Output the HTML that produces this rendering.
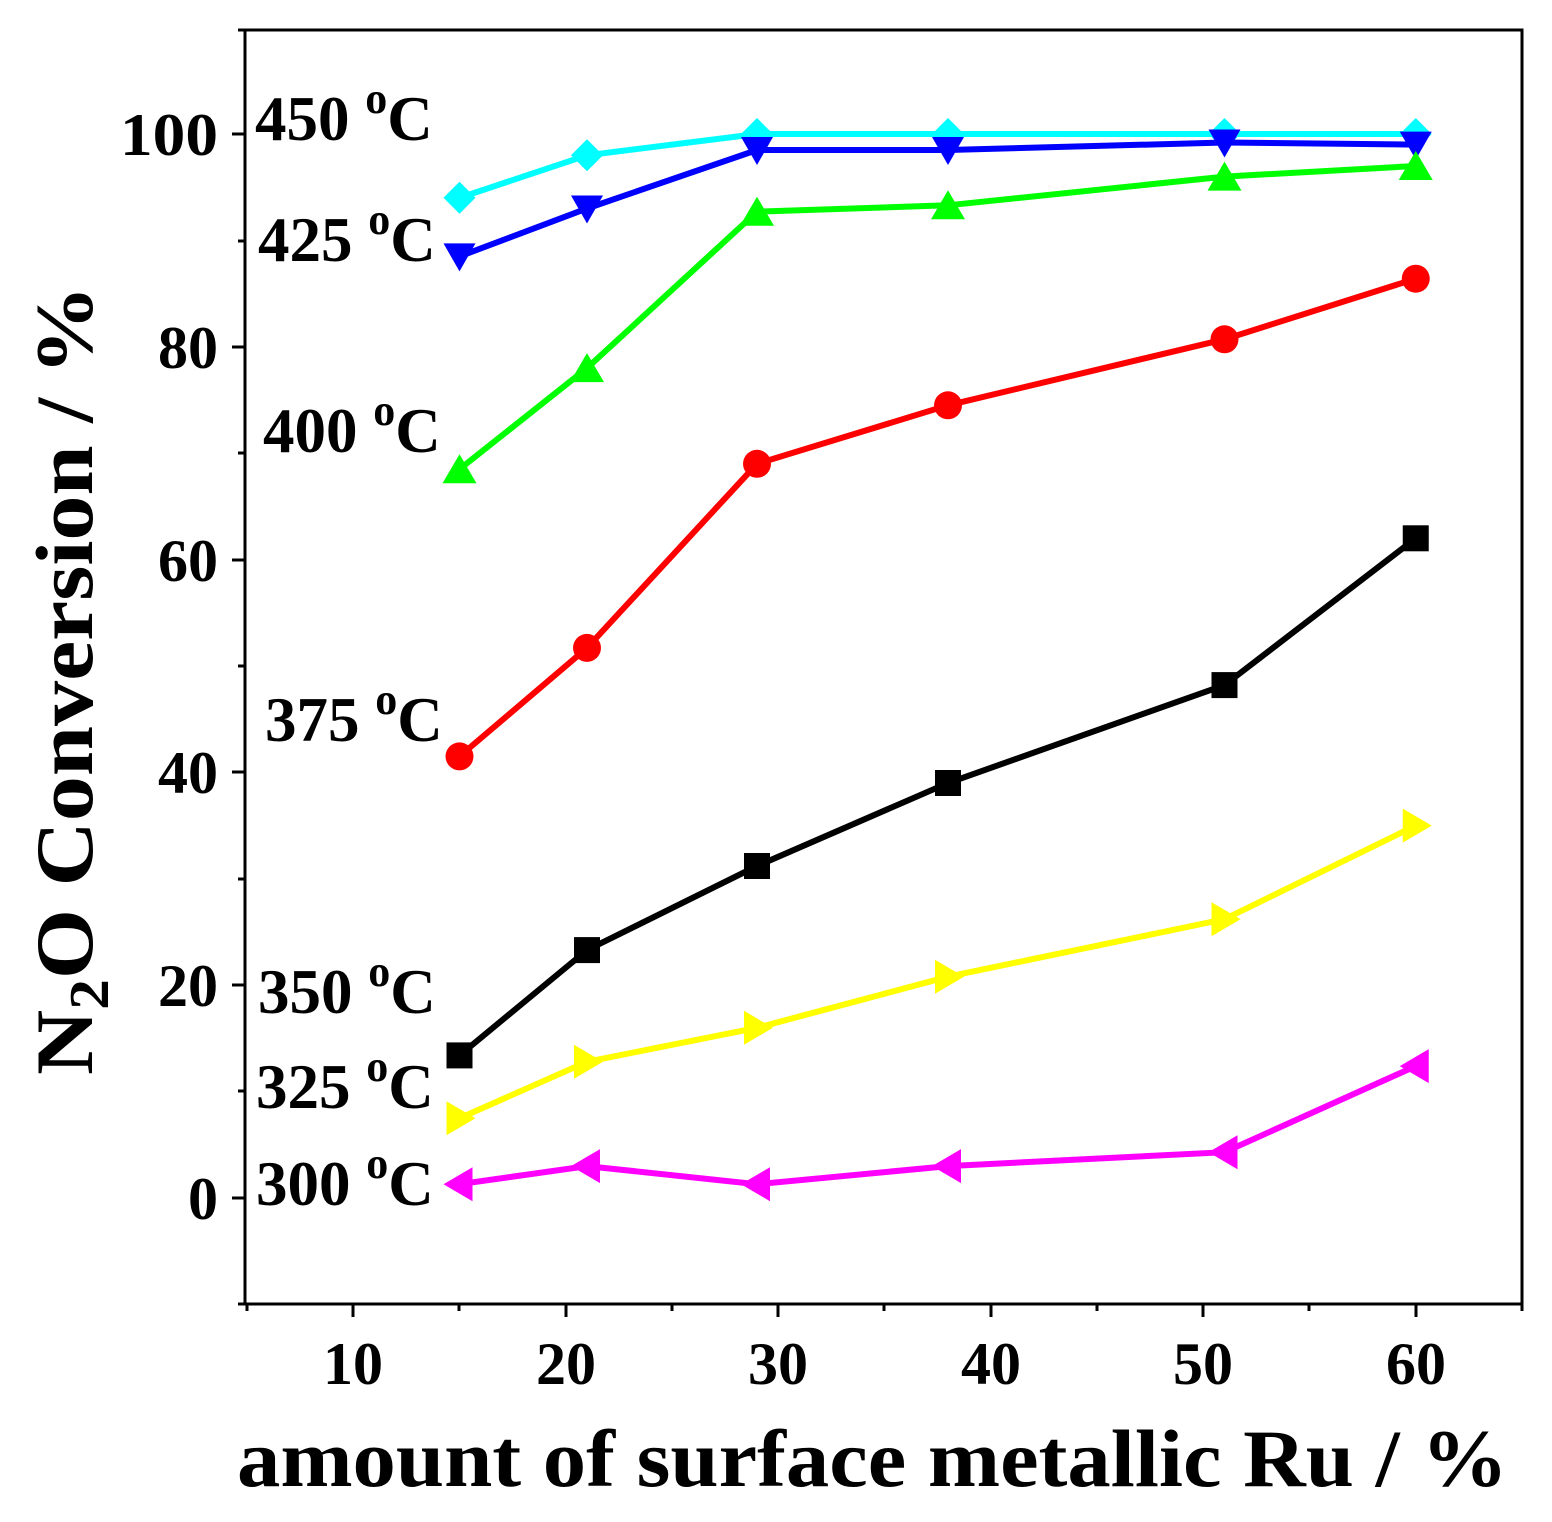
<!DOCTYPE html>
<html><head><meta charset="utf-8"><style>body{margin:0;background:#fff}svg{display:block}</style></head><body>
<svg width="1552" height="1522" viewBox="0 0 1552 1522" xmlns="http://www.w3.org/2000/svg" font-family="Liberation Serif, serif" font-weight="bold">
<rect x="245" y="30" width="1277" height="1274" fill="none" stroke="#000" stroke-width="3"/>
<g stroke="#000" stroke-width="3">
<line x1="245" y1="1198" x2="232" y2="1198"/><line x1="245" y1="985" x2="232" y2="985"/><line x1="245" y1="772" x2="232" y2="772"/><line x1="245" y1="560" x2="232" y2="560"/><line x1="245" y1="347" x2="232" y2="347"/><line x1="245" y1="134" x2="232" y2="134"/>
<line x1="245" y1="1091" x2="238" y2="1091"/><line x1="245" y1="879" x2="238" y2="879"/><line x1="245" y1="666" x2="238" y2="666"/><line x1="245" y1="453" x2="238" y2="453"/><line x1="245" y1="241" x2="238" y2="241"/><line x1="245" y1="1304" x2="238" y2="1304"/><line x1="245" y1="30" x2="238" y2="30"/>
<line x1="353" y1="1304" x2="353" y2="1317"/><line x1="566" y1="1304" x2="566" y2="1317"/><line x1="778" y1="1304" x2="778" y2="1317"/><line x1="991" y1="1304" x2="991" y2="1317"/><line x1="1203" y1="1304" x2="1203" y2="1317"/><line x1="1416" y1="1304" x2="1416" y2="1317"/>
<line x1="247" y1="1304" x2="247" y2="1311"/><line x1="459" y1="1304" x2="459" y2="1311"/><line x1="672" y1="1304" x2="672" y2="1311"/><line x1="884" y1="1304" x2="884" y2="1311"/><line x1="1097" y1="1304" x2="1097" y2="1311"/><line x1="1309" y1="1304" x2="1309" y2="1311"/><line x1="1522" y1="1304" x2="1522" y2="1311"/>
</g>
<g font-size="60" text-anchor="end">
<text x="218" y="1219">0</text><text x="218" y="1006">20</text><text x="218" y="793">40</text><text x="218" y="581">60</text><text x="218" y="368">80</text><text x="218" y="155" textLength="98" lengthAdjust="spacingAndGlyphs">100</text>
</g>
<g font-size="60" text-anchor="middle">
<text x="353" y="1384">10</text><text x="566" y="1384">20</text><text x="778" y="1384">30</text><text x="991" y="1384">40</text><text x="1203" y="1384">50</text><text x="1416" y="1384">60</text>
</g>
<text x="237" y="1486" font-size="82" textLength="1271" lengthAdjust="spacingAndGlyphs">amount of surface metallic Ru / %</text>
<text transform="translate(92,1075) rotate(-90)" font-size="82" textLength="790" lengthAdjust="spacingAndGlyphs">N<tspan font-size="56" dy="16">2</tspan><tspan dy="-16">O Conversion / %</tspan></text>
<g fill="none" stroke-width="6">
<polyline stroke="#0ff" points="459.5,197.8 587,155.3 757,134 948,134 1224.5,134 1415.75,134"/>
<polyline stroke="#00f" points="459.5,256.4 587,208.5 757,150 948,150 1224.5,142.5 1415.75,144.6"/>
<polyline stroke="#0f0" points="459.5,469.2 587,368.1 757,211.7 948,205.3 1224.5,176.6 1415.75,166"/>
<polyline stroke="#f00" points="459.5,756.4 587,647.9 757,463.8 948,405.3 1224.5,339.3 1415.75,278.7"/>
<polyline stroke="#000" points="459.5,1055.4 587,950.1 757,866 948,783 1224.5,685.1 1415.75,538.3"/>
<polyline stroke="#ff0" points="459.5,1118.2 587,1061.8 757,1027.8 948,976.7 1224.5,919.2 1415.75,825.6"/>
<polyline stroke="#f0f" points="459.5,1184.2 587,1166.1 757,1184.2 948,1166.1 1224.5,1152.2 1415.75,1066.1"/>
</g>
<defs>
<path id="dia" d="M0,-16 L16,0 L0,16 L-16,0Z" fill="#0ff"/>
<path id="dn" d="M-16,-13 L16,-13 L0,15Z" fill="#00f"/>
<path id="up" d="M-17,14 L17,14 L0,-15Z" fill="#0f0"/>
<circle id="ci" r="14" fill="#f00"/>
<rect id="sq" x="-13" y="-13" width="26" height="26" fill="#000"/>
<path id="rt" d="M-13,-17 L16,0 L-13,17Z" fill="#ff0"/>
<path id="lt" d="M13,-17 L-16,0 L13,17Z" fill="#f0f"/>
</defs>
<g>
<use href="#dia" x="459.5" y="197.8"/><use href="#dia" x="587" y="155.3"/><use href="#dia" x="757" y="134"/><use href="#dia" x="948" y="134"/><use href="#dia" x="1224.5" y="134"/><use href="#dia" x="1415.75" y="134"/>
<use href="#dn" x="459.5" y="256.4"/><use href="#dn" x="587" y="208.5"/><use href="#dn" x="757" y="150"/><use href="#dn" x="948" y="150"/><use href="#dn" x="1224.5" y="142.5"/><use href="#dn" x="1415.75" y="144.6"/>
<use href="#up" x="459.5" y="469.2"/><use href="#up" x="587" y="368.1"/><use href="#up" x="757" y="211.7"/><use href="#up" x="948" y="205.3"/><use href="#up" x="1224.5" y="176.6"/><use href="#up" x="1415.75" y="166"/>
<use href="#ci" x="459.5" y="756.4"/><use href="#ci" x="587" y="647.9"/><use href="#ci" x="757" y="463.8"/><use href="#ci" x="948" y="405.3"/><use href="#ci" x="1224.5" y="339.3"/><use href="#ci" x="1415.75" y="278.7"/>
<use href="#sq" x="459.5" y="1055.4"/><use href="#sq" x="587" y="950.1"/><use href="#sq" x="757" y="866"/><use href="#sq" x="948" y="783"/><use href="#sq" x="1224.5" y="685.1"/><use href="#sq" x="1415.75" y="538.3"/>
<use href="#rt" x="459.5" y="1118.2"/><use href="#rt" x="587" y="1061.8"/><use href="#rt" x="757" y="1027.8"/><use href="#rt" x="948" y="976.7"/><use href="#rt" x="1224.5" y="919.2"/><use href="#rt" x="1415.75" y="825.6"/>
<use href="#lt" x="459.5" y="1184.2"/><use href="#lt" x="587" y="1166.1"/><use href="#lt" x="757" y="1184.2"/><use href="#lt" x="948" y="1166.1"/><use href="#lt" x="1224.5" y="1152.2"/><use href="#lt" x="1415.75" y="1066.1"/>
</g>
<g font-size="63">
<text x="255" y="140">450 <tspan font-size="44" dy="-27">o</tspan><tspan dy="27">C</tspan></text>
<text x="258" y="261">425 <tspan font-size="44" dy="-27">o</tspan><tspan dy="27">C</tspan></text>
<text x="263" y="452">400 <tspan font-size="44" dy="-27">o</tspan><tspan dy="27">C</tspan></text>
<text x="265" y="741">375 <tspan font-size="44" dy="-27">o</tspan><tspan dy="27">C</tspan></text>
<text x="258" y="1013">350 <tspan font-size="44" dy="-27">o</tspan><tspan dy="27">C</tspan></text>
<text x="256" y="1108">325 <tspan font-size="44" dy="-27">o</tspan><tspan dy="27">C</tspan></text>
<text x="256" y="1205">300 <tspan font-size="44" dy="-27">o</tspan><tspan dy="27">C</tspan></text>
</g>
</svg>
</body></html>
